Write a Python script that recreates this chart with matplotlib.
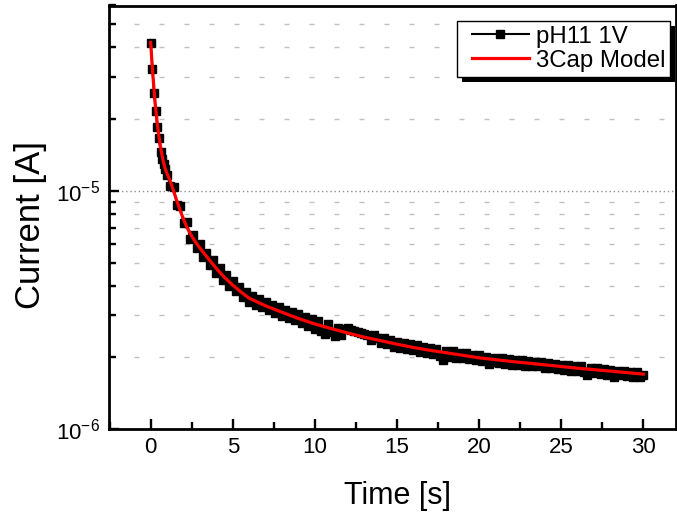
import numpy as np
import matplotlib
matplotlib.use("Agg")
import matplotlib.pyplot as plt
from matplotlib.ticker import LogLocator, MultipleLocator, NullFormatter
from matplotlib.patches import Rectangle
from matplotlib.transforms import IdentityTransform
from matplotlib.legend_handler import HandlerLine2D

plt.rcParams['font.family'] = ['Liberation Sans', 'DejaVu Sans']
plt.rcParams['mathtext.fontset'] = 'custom'
plt.rcParams['mathtext.rm'] = 'Liberation Sans'
plt.rcParams['mathtext.it'] = 'Liberation Sans'

# ---- measured data (current in microamps) ----
data_t_early = [0.0, 0.1, 0.2, 0.3, 0.4, 0.5, 0.6, 0.7, 0.8, 0.9, 1.0]
data_i_early = [41.8, 32.6, 25.8, 21.7, 18.6, 16.6, 14.6, 13.6, 13.0, 12.3, 11.7]
# sampled every 0.2 s from 1.2 s to 30 s
data_i_late = [
    10.5, 10.4, 8.7, 8.6, 7.3, 7.4, 6.3, 6.55, 5.75, 6.0,      # 1.2 - 3.0
    5.3, 5.5, 4.88, 5.1, 4.5, 4.75, 4.22, 4.45, 3.98, 4.18,    # 3.2 - 5.0
    3.78, 3.95, 3.58, 3.76, 3.42, 3.62, 3.32, 3.52, 3.24, 3.42,  # 5.2 - 7.0
    3.16, 3.33, 3.08, 3.25, 2.98, 3.16, 2.92, 3.1, 2.86, 3.03,  # 7.2 - 9.0
    2.78, 2.96, 2.7, 2.9, 2.64, 2.84, 2.58, 2.5, 2.76, 2.55,    # 9.2 - 11.0
    2.45, 2.66, 2.48, 2.62, 2.66, 2.6, 2.58, 2.56, 2.52, 2.5,   # 11.2 - 13.0
    2.48, 2.36, 2.47, 2.42, 2.3, 2.41, 2.27, 2.37, 2.22, 2.33,  # 13.2 - 15.0
    2.19, 2.3, 2.17, 2.27, 2.14, 2.25, 2.11, 2.22, 2.08, 2.18,  # 15.2 - 17.0
    2.06, 2.16, 2.03, 1.95, 2.12, 2.01, 2.12, 1.98, 2.09, 1.99, # 17.2 - 19.0
    2.08, 1.96, 2.05, 1.94, 2.04, 1.93, 2.01, 1.87, 1.91, 1.99, # 19.2 - 21.0
    1.89, 1.98, 1.88, 1.96, 1.86, 1.95, 1.85, 1.94, 1.84, 1.93, # 21.2 - 23.0
    1.84, 1.92, 1.83, 1.91, 1.81, 1.89, 1.8, 1.88, 1.79, 1.86,  # 23.2 - 25.0
    1.77, 1.85, 1.76, 1.84, 1.75, 1.83, 1.73, 1.69, 1.81, 1.72, # 25.2 - 27.0
    1.8, 1.71, 1.79, 1.69, 1.77, 1.66, 1.76, 1.68, 1.75, 1.67,  # 27.2 - 29.0
    1.74, 1.66, 1.73, 1.66, 1.69,                               # 29.2 - 30.0
]
data_t_late = list(np.round(1.2 + 0.2 * np.arange(len(data_i_late)), 1))

# ---- 3-capacitor model curve (microamps) ----
model_t = [0, 0.1, 0.2, 0.3, 0.4, 0.5, 0.6, 0.7, 0.8, 0.9, 1.0, 1.2, 1.4, 1.6,
           1.8, 2.0, 2.2, 2.5, 2.8, 3.0, 3.5, 4.0, 4.5, 5, 5.5, 6, 7, 8, 9,
           10, 11, 12, 13, 14, 15, 16, 17, 18, 19, 20, 21, 22, 23, 24, 25,
           26, 27, 28, 29, 30]
model_i = [42.0, 33.0, 26.8, 22.3, 19.3, 17.0, 15.3, 14.0, 13.0, 12.3, 11.8,
           10.95, 9.95, 9.05, 8.25, 7.6, 7.05, 6.45, 6.0, 5.75, 5.2, 4.72,
           4.33, 4.02, 3.76, 3.54, 3.29, 3.09, 2.91, 2.76, 2.64, 2.53, 2.43,
           2.35, 2.27, 2.2, 2.14, 2.09, 2.04, 1.99, 1.955, 1.92, 1.89, 1.86,
           1.83, 1.8, 1.775, 1.75, 1.725, 1.70]

data_t = np.array(data_t_early + data_t_late)
data_i = np.array(data_i_early + data_i_late) * 1e-6
mod_t = np.array(model_t)
mod_i = np.array(model_i) * 1e-6

W, H = 677, 513
X_LEFT, X_RIGHT = 108.8, 676.1
Y_TOP, Y_BOT = 5.5, 429.0
fig = plt.figure(figsize=(W / 100, H / 100), dpi=100)
ax = fig.add_axes([X_LEFT / W, 1 - Y_BOT / H, (X_RIGHT - X_LEFT) / W,
                   (Y_BOT - Y_TOP) / H])

ax.plot(data_t, data_i, color='black', lw=1.5, marker='s', ms=6.3,
        label='pH11 1V', zorder=3)
ax.plot(mod_t, mod_i, color='#ff0000', lw=2.3, label='3Cap Model', zorder=4)

ax.set_yscale('log')
ax.set_xlim(-2.55, 32.0)
ax.set_ylim(1e-6, 6e-5)

ax.xaxis.set_major_locator(MultipleLocator(5))
ax.xaxis.set_minor_locator(MultipleLocator(2.5))
ax.yaxis.set_major_locator(LogLocator(base=10))
ax.yaxis.set_minor_locator(LogLocator(base=10, subs=np.arange(2, 10)))
ax.yaxis.set_minor_formatter(NullFormatter())

ax.tick_params(which='both', direction='in', width=1.7, labelsize=16,
               top=False, right=False)
ax.tick_params(which='major', length=7.5, pad=6)
ax.tick_params(which='minor', length=4.7)

ax.set_axisbelow(True)
ax.yaxis.grid(True, which='minor', color='#c0c0c0', lw=1.0,
              linestyle=(0, (3.6, 14.4)))
ax.yaxis.grid(True, which='major', color='#909090', lw=1.0,
              linestyle=(0, (1, 2)))
ax.xaxis.grid(False)

for s in ax.spines.values():
    s.set_linewidth(2.0)

axw = X_RIGHT - X_LEFT
axh = Y_BOT - Y_TOP
ax.set_xlabel('Time [s]', fontsize=22)
ax.xaxis.set_label_coords((397 - X_LEFT) / axw, (Y_BOT - 481) / axh)
ax.set_ylabel('Current [A]', fontsize=25)
ax.yaxis.set_label_coords((47 - X_LEFT) / axw, (Y_BOT - 225) / axh)


class ShiftedLine(HandlerLine2D):
    def __init__(self, shift, **kw):
        super().__init__(**kw)
        self.shift = shift

    def create_artists(self, legend, orig_handle, xdescent, ydescent,
                       width, height, fontsize, trans):
        arts = super().create_artists(legend, orig_handle, xdescent, ydescent,
                                      width, height, fontsize, trans)
        x0 = -xdescent + self.shift * fontsize
        x1 = -xdescent + width
        for a in arts:
            xd = np.asarray(a.get_xdata(), dtype=float)
            if len(xd) >= 2:
                a.set_xdata(np.linspace(x0, x1, len(xd)))
            elif len(xd) == 1:
                a.set_xdata([(x0 + x1) / 2])
        return arts


h1, h2 = ax.get_legend_handles_labels()[0]
leg = ax.legend(loc='upper left', bbox_to_anchor=(456.7 / W, 1 - 20.7 / H),
                bbox_transform=fig.transFigure, borderaxespad=0,
                fontsize=17.3, fancybox=False, framealpha=1,
                edgecolor='black', handlelength=2.8, handletextpad=0.28,
                borderpad=0.2, labelspacing=0.1, numpoints=1,
                handler_map={h1: ShiftedLine(0.44), h2: ShiftedLine(0.44)})
leg.get_frame().set_linewidth(1.0)
leg.set_zorder(6)

fig.canvas.draw()
bb = leg.get_window_extent()
shadow = Rectangle((bb.x0 + 5, bb.y0 - 5), bb.width, bb.height,
                   transform=IdentityTransform(), facecolor='black',
                   edgecolor='none', zorder=5.5, clip_on=False)
ax.add_patch(shadow)

fig.savefig('out.png', dpi=100)
